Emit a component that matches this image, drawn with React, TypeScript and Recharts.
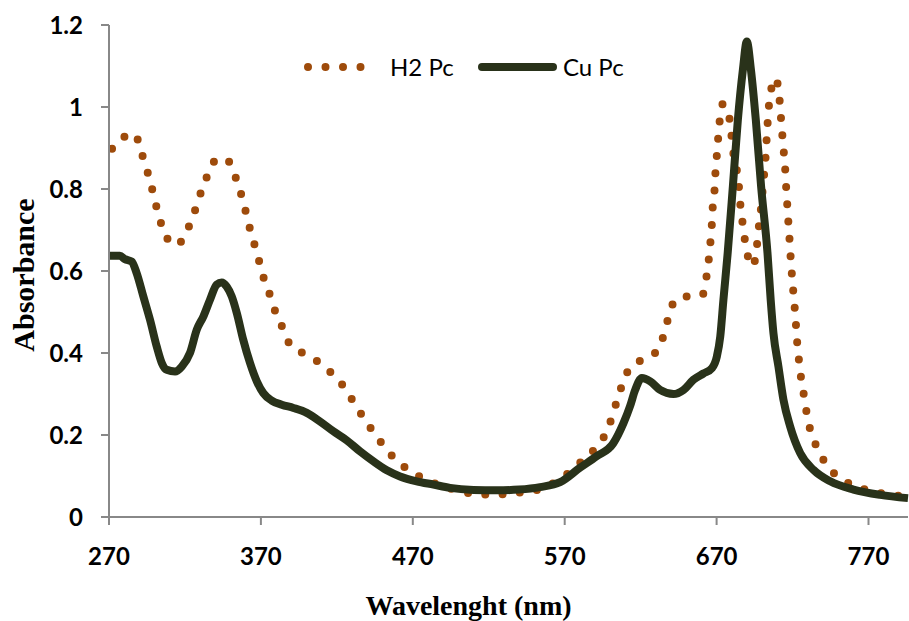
import React from 'react';
import { LineChart, Line, XAxis, YAxis, Legend } from 'recharts';

// H2 Pc spectrum (dotted series)
const h2Wavelength = [
  272, 280.5, 287, 291, 294.5, 297.6, 300.2, 303.3, 306.8, 314.6, 321.2, 325.6, 329, 333, 337,
  342.7, 349.2, 353.6, 357, 360, 362.8, 365.9, 369, 372, 376, 379.5, 384.2, 388.6, 397.8, 407.9,
  416.2, 424.1, 430.4, 436.6, 443.1, 449.7, 457.1, 465.5, 475.3, 485.8, 496, 507.7, 519.3, 530.9,
  542.3, 553.6, 568, 575, 582.3, 590.7, 597, 601.1, 604.4, 608, 612.7, 621.9, 631.3, 635.5, 638.5,
  642.7, 652.3, 660.9, 663.3, 664.8, 665.9, 666.8, 667.4, 668.6, 669.2, 670.1, 671, 672, 674,
  677.9, 679.5, 680.6, 682.8, 684.5, 685.4, 686.7, 688.2, 690, 693.7, 696.3, 697.4, 698.8, 700.9,
  702, 702.7, 703.4, 704.2, 705.5, 708.8, 711.2, 712.1, 713, 713.9, 715, 715.6, 716.3, 717, 717.8,
  718.5, 719.3, 720.2, 721.2, 722.1, 722.8, 723.9, 725.2, 727, 728.7, 730.9, 734.4, 739.3, 746.2,
  755.2, 765.5, 776.4, 787.4, 796,
];
const h2Absorbance = [
  0.898, 0.928, 0.934, 0.893, 0.852, 0.812, 0.771, 0.729, 0.688, 0.663, 0.698, 0.736, 0.776, 0.815, 0.854,
  0.875, 0.866, 0.826, 0.787, 0.745, 0.703, 0.663, 0.622, 0.581, 0.541, 0.501, 0.462, 0.424, 0.399, 0.378,
  0.352, 0.32, 0.284, 0.248, 0.212, 0.179, 0.146, 0.119, 0.097, 0.08, 0.068, 0.058, 0.055, 0.056,
  0.061, 0.068, 0.095, 0.115, 0.14, 0.17, 0.204, 0.243, 0.284, 0.324, 0.363, 0.385, 0.407, 0.448, 0.49,
  0.529, 0.539, 0.543, 0.585, 0.627, 0.669, 0.71, 0.753, 0.795, 0.838, 0.88, 0.923, 0.965, 1.007,
  0.982, 0.941, 0.899, 0.856, 0.814, 0.771, 0.729, 0.686, 0.646, 0.612, 0.653, 0.695, 0.737, 0.822,
  0.864, 0.907, 0.95, 0.993, 1.034, 1.07, 1.028, 0.986, 0.944, 0.902, 0.859, 0.816, 0.774, 0.732, 0.69,
  0.647, 0.604, 0.562, 0.52, 0.477, 0.437, 0.393, 0.35, 0.308, 0.267, 0.224, 0.184, 0.146, 0.111,
  0.086, 0.07, 0.059, 0.053, 0.05,
];

// Cu Pc spectrum (solid series)
const cuWavelength = [
  270, 277.2, 280.5, 284.9, 288.2, 292.6, 297, 301.4, 304.7, 308, 313.5, 317.9, 323.3, 327.8, 332.1,
  336.5, 340.9, 344.2, 347.5, 350.8, 354.1, 358.4, 362.8, 367.3, 371.6, 377.1, 383.7, 391.4, 400.2,
  408.9, 417.7, 426.5, 435.3, 444, 452.9, 461.6, 472.6, 483.6, 494.5, 510, 525, 540, 553.8, 567,
  580, 591, 602, 608.7, 613, 616.4, 620.8, 626.3, 632.8, 641.6, 648.2, 654.8, 661.3, 666.9, 670.2,
  672.4, 674.5, 677.3, 680.7, 684, 687.3, 689.9, 692.6, 695.8, 699.3, 703.5, 705.6, 707.4, 710.7,
  714, 718.4, 725, 733.8, 744.8, 760.1, 777.7, 796,
];
const cuAbsorbance = [
  0.637, 0.637, 0.629, 0.623, 0.595, 0.538, 0.481, 0.416, 0.376, 0.359, 0.355, 0.367, 0.4, 0.457, 0.489,
  0.53, 0.567, 0.572, 0.562, 0.538, 0.498, 0.432, 0.376, 0.331, 0.302, 0.284, 0.274, 0.266, 0.254,
  0.233, 0.209, 0.187, 0.16, 0.136, 0.114, 0.099, 0.087, 0.079, 0.071, 0.066, 0.065, 0.067, 0.073, 0.085,
  0.12, 0.148, 0.18, 0.229, 0.27, 0.31, 0.339, 0.331, 0.31, 0.3, 0.31, 0.335, 0.35, 0.363, 0.392,
  0.44, 0.53, 0.644, 0.806, 0.969, 1.091, 1.16, 1.091, 0.969, 0.806, 0.644, 0.53, 0.449, 0.367,
  0.286, 0.221, 0.156, 0.115, 0.087, 0.067, 0.054, 0.046,
];

const xTicks = [270, 370, 470, 570, 670, 770];
const yTicks = [0, 0.2, 0.4, 0.6, 0.8, 1, 1.2];

const H2_COLOR = '#9E4B0B';
const CU_COLOR = '#29321A';
const AXIS_COLOR = '#888888';

const h2Data = h2Wavelength.map((x, i) => ({ x, y: h2Absorbance[i] }));
const cuData = cuWavelength.map((x, i) => ({ x, y: cuAbsorbance[i] }));

const tickStyle = { fill: '#000', fontFamily: 'Lato', fontWeight: 'bold', fontSize: 24 };

const XTitle = ({ viewBox }: any) => (
  <text
    x={viewBox.x + viewBox.width / 2 - 40}
    y={viewBox.y + viewBox.height - 6}
    textAnchor="middle"
    fontFamily="'Liberation Serif', 'Times New Roman', serif"
    fontWeight="bold"
    fontSize={28}
    fill="#000"
  >
    Wavelenght (nm)
  </text>
);

const YTitle = ({ viewBox }: any) => {
  const cx = viewBox.x + 23;
  const cy = viewBox.y + viewBox.height / 2 + 4;
  return (
    <text
      x={cx}
      y={cy}
      transform={`rotate(-90, ${cx}, ${cy})`}
      textAnchor="middle"
      dominantBaseline="central"
      fontFamily="'Liberation Serif', 'Times New Roman', serif"
      fontWeight="bold"
      fontSize={30}
      fill="#000"
    >
      Absorbance
    </text>
  );
};

const LegendContent = () => (
  <svg width={340} height={36} style={{ display: 'block' }}>
    <line x1={8} y1={17} x2={78} y2={17} stroke={H2_COLOR} strokeWidth={8} strokeLinecap="round" strokeDasharray="0 17.5" />
    <text x={90} y={26} fontFamily="Lato" fontSize={24} fill="#000">H2 Pc</text>
    <line x1={182} y1={17} x2={253} y2={17} stroke={CU_COLOR} strokeWidth={8} strokeLinecap="round" />
    <text x={263} y={26} fontFamily="Lato" fontSize={24} fill="#000">Cu Pc</text>
  </svg>
);

export default function App() {
  return (
    <div style={{ position: 'absolute', left: 0, top: 0, width: 909, height: 621, background: '#fff' }}>
      <LineChart width={909} height={621} margin={{ top: 25, right: 1, bottom: 0, left: 0 }}>
        <XAxis
          dataKey="x"
          type="number"
          domain={[270, 796]}
          ticks={xTicks}
          height={104}
          tickSize={8}
          tickMargin={23}
          tick={tickStyle}
          axisLine={{ stroke: AXIS_COLOR, strokeWidth: 2 }}
          tickLine={{ stroke: AXIS_COLOR, strokeWidth: 2 }}
          label={XTitle}
        />
        <YAxis
          type="number"
          domain={[0, 1.2]}
          ticks={yTicks}
          width={109}
          tickSize={8}
          tickMargin={18}
          tick={tickStyle}
          axisLine={{ stroke: AXIS_COLOR, strokeWidth: 2 }}
          tickLine={{ stroke: AXIS_COLOR, strokeWidth: 2 }}
          label={YTitle}
        />
        <Legend
          layout="vertical"
          align="center"
          verticalAlign="middle"
          content={LegendContent}
          wrapperStyle={{ top: 50, left: 300, width: 340 }}
        />
        <Line
          data={h2Data}
          dataKey="y"
          name="H2 Pc"
          type="monotone"
          stroke={H2_COLOR}
          strokeWidth={8}
          strokeLinecap="round"
          strokeDasharray="0 17.3"
          dot={false}
          activeDot={false}
          isAnimationActive={false}
        />
        <Line
          data={cuData}
          dataKey="y"
          name="Cu Pc"
          type="monotone"
          stroke={CU_COLOR}
          strokeWidth={8}
          strokeLinejoin="round"
          dot={false}
          activeDot={false}
          isAnimationActive={false}
        />
      </LineChart>
    </div>
  );
}
